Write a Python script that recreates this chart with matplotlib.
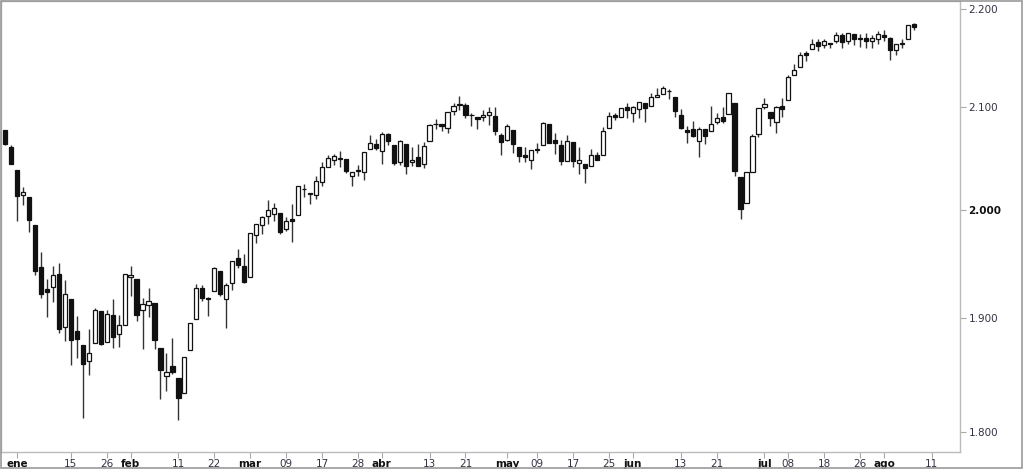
import matplotlib
matplotlib.use('Agg')
import matplotlib.pyplot as plt
from matplotlib.patches import Rectangle
from matplotlib.ticker import FixedLocator, NullLocator
import numpy as np
import pandas as pd

plt.rcParams['font.family'] = ['DejaVu Sans']

# sesiones (dias habiles, sin festivos)
festivos = ['2016-01-01', '2016-01-18', '2016-02-15', '2016-03-25', '2016-05-30', '2016-07-04']
fechas = pd.bdate_range('2015-12-30', '2016-08-08', freq='C', holidays=festivos)

# velas: apertura, maximo, minimo, cierre
apertura = [
    2077.34, 2060.59,
    2038.20, 2013.78, 2011.71, 1985.32, 1945.97, 1926.12, 1927.83, 1940.34, 1891.68, 1916.68,
    1888.66, 1876.18, 1861.46, 1877.40, 1906.28, 1878.79, 1902.52, 1885.22, 1894.00,
    1936.94, 1935.26, 1907.07, 1911.67, 1913.07, 1873.25, 1848.46, 1857.10, 1847.00, 1833.40,
    1871.44, 1898.80, 1927.57, 1916.74, 1924.44, 1942.38, 1917.56, 1931.87, 1954.95, 1947.13,
    1937.09, 1976.60, 1985.60, 1994.01, 1996.11, 1996.88, 1981.44, 1990.97, 1994.71, 2019.27,
    2015.27, 2014.24, 2026.90, 2041.16, 2047.88, 2048.64, 2048.55, 2032.48, 2037.89, 2035.75,
    2058.27, 2063.77,
    2056.62, 2073.19, 2062.50, 2045.56, 2063.01, 2045.54, 2050.23, 2043.72, 2065.92, 2082.89,
    2083.10, 2078.83, 2096.05, 2101.52, 2102.09, 2091.49, 2089.37, 2089.84, 2092.33, 2090.93,
    2071.82,
    2067.17, 2077.18, 2060.30, 2052.95, 2047.77, 2057.55, 2062.63, 2083.29, 2067.17, 2062.50,
    2046.53, 2065.04, 2044.38, 2044.21, 2041.88, 2052.23, 2052.65, 2078.93, 2091.44, 2090.06,
    2100.13,
    2093.94, 2097.71, 2104.07, 2100.83, 2110.18, 2112.71, 2115.65, 2109.57, 2091.75, 2076.65,
    2077.60, 2066.36, 2078.20, 2075.58, 2085.19, 2089.75, 2092.80, 2103.81, 2031.45, 2006.67,
    2036.09, 2073.17,
    2099.34, 2095.05, 2084.43, 2100.42, 2106.97, 2131.72, 2139.50, 2153.81, 2157.88, 2165.13,
    2162.04, 2163.79, 2166.10, 2172.91, 2166.47, 2173.71, 2168.97, 2169.81, 2166.05, 2168.83,
    2173.15, 2169.94, 2156.81, 2163.51, 2168.79, 2183.76,
]
maximo = [
    2077.34, 2062.54,
    2038.20, 2021.94, 2011.71, 1985.32, 1960.40, 1935.65, 1947.38, 1950.33, 1934.47, 1916.68,
    1901.44, 1876.18, 1889.85, 1908.85, 1906.28, 1906.73, 1916.99, 1902.96, 1940.24,
    1947.20, 1935.26, 1918.01, 1927.35, 1913.07, 1873.25, 1868.25, 1881.60, 1847.00, 1864.78,
    1895.77, 1930.68, 1930.00, 1918.78, 1946.70, 1942.38, 1932.08, 1951.83, 1962.96, 1958.27,
    1978.35, 1986.51, 1993.69, 2009.13, 2006.12, 1996.88, 1992.69, 2005.08, 2022.37, 2024.57,
    2015.94, 2032.02, 2046.24, 2052.36, 2053.91, 2056.60, 2048.55, 2036.04, 2042.67, 2055.91,
    2072.21, 2067.92,
    2075.07, 2074.02, 2062.50, 2067.33, 2063.01, 2060.63, 2062.93, 2065.05, 2083.18, 2087.84,
    2083.22, 2094.66, 2104.05, 2111.05, 2103.78, 2094.32, 2089.37, 2096.87, 2099.89, 2099.30,
    2073.85,
    2083.42, 2077.18, 2060.30, 2060.23, 2057.72, 2064.15, 2084.87, 2083.29, 2073.99, 2066.79,
    2071.88, 2065.69, 2060.61, 2044.21, 2058.35, 2055.58, 2079.67, 2094.73, 2094.30, 2099.06,
    2103.48,
    2100.97, 2105.26, 2104.07, 2113.36, 2119.22, 2120.55, 2117.64, 2109.57, 2098.12, 2081.30,
    2085.65, 2079.62, 2078.20, 2100.66, 2093.66, 2099.71, 2113.32, 2103.81, 2031.45, 2036.09,
    2073.13, 2098.94,
    2108.71, 2095.05, 2100.72, 2109.08, 2131.71, 2143.16, 2155.40, 2156.45, 2169.05, 2169.05,
    2168.99, 2164.63, 2175.63, 2174.56, 2175.11, 2173.71, 2173.54, 2174.98, 2172.85, 2177.09,
    2178.29, 2170.20, 2163.79, 2168.19, 2182.87, 2185.44,
]
minimo = [
    2061.97, 2043.62,
    1989.68, 2004.17, 1979.05, 1938.83, 1918.46, 1901.10, 1914.35, 1886.41, 1878.93, 1857.83,
    1864.60, 1812.29, 1848.98, 1877.40, 1875.97, 1878.79, 1872.70, 1873.65, 1894.00,
    1920.03, 1897.29, 1872.23, 1900.52, 1872.65, 1828.46, 1834.94, 1850.32, 1810.10, 1833.40,
    1871.44, 1898.80, 1915.09, 1902.17, 1924.44, 1919.44, 1891.00, 1925.41, 1945.78, 1931.81,
    1937.09, 1968.80, 1977.37, 1986.77, 1989.38, 1977.43, 1979.84, 1969.25, 1994.71, 2012.05,
    2005.23, 2010.04, 2022.16, 2041.16, 2043.14, 2040.57, 2034.86, 2022.49, 2031.96, 2028.31,
    2058.27, 2057.46,
    2043.98, 2062.57, 2042.56, 2043.09, 2033.80, 2041.69, 2041.88, 2039.74, 2065.92, 2078.13,
    2076.31, 2073.65, 2091.68, 2096.32, 2088.52, 2081.20, 2077.52, 2085.80, 2082.31, 2071.62,
    2052.28,
    2066.11, 2054.89, 2045.55, 2045.77, 2039.45, 2054.31, 2062.63, 2064.46, 2053.13, 2043.13,
    2046.53, 2040.82, 2034.49, 2025.91, 2041.88, 2047.26, 2052.65, 2078.93, 2087.08, 2090.06,
    2088.66,
    2085.10, 2088.59, 2085.36, 2100.83, 2110.18, 2112.71, 2107.73, 2089.96, 2078.46, 2064.10,
    2069.80, 2050.37, 2062.84, 2075.58, 2083.02, 2084.36, 2092.80, 2032.57, 1991.68, 2006.67,
    2036.09, 2070.00,
    2097.90, 2080.86, 2074.02, 2089.39, 2106.97, 2131.72, 2139.50, 2146.21, 2157.88, 2155.79,
    2159.07, 2159.01, 2164.89, 2159.75, 2163.24, 2161.95, 2160.18, 2159.07, 2159.74, 2163.49,
    2166.21, 2147.58, 2152.56, 2159.07, 2168.79, 2177.85,
]
cierre = [
    2063.36, 2043.94,
    2012.66, 2016.71, 1990.26, 1943.09, 1922.03, 1923.67, 1938.68, 1890.28, 1921.84, 1880.33,
    1881.33, 1859.33, 1868.99, 1906.90, 1877.08, 1903.63, 1882.95, 1893.36, 1940.24,
    1939.38, 1903.03, 1912.53, 1915.45, 1880.05, 1853.44, 1852.21, 1851.86, 1829.08, 1864.78,
    1895.58, 1926.82, 1917.83, 1917.78, 1945.50, 1921.27, 1929.80, 1951.70, 1948.05, 1932.23,
    1978.35, 1986.45, 1993.40, 1999.99, 2001.76, 1979.26, 1989.26, 1989.57, 2022.19, 2019.64,
    2015.93, 2027.22, 2040.59, 2049.58, 2051.60, 2049.80, 2036.71, 2035.94, 2037.05, 2055.01,
    2063.95, 2059.74,
    2072.78, 2066.13, 2045.17, 2066.66, 2041.91, 2047.60, 2041.99, 2061.72, 2082.42, 2082.78,
    2080.73, 2094.34, 2100.80, 2102.40, 2091.48, 2091.58, 2087.79, 2091.70, 2095.15, 2075.81,
    2065.30,
    2081.43, 2063.37, 2051.12, 2050.63, 2057.14, 2058.69, 2084.39, 2064.46, 2064.11, 2046.61,
    2066.66, 2047.21, 2047.63, 2040.04, 2052.32, 2048.04, 2076.06, 2090.54, 2090.10, 2099.06,
    2096.95,
    2099.33, 2105.26, 2099.13, 2109.41, 2112.13, 2119.12, 2115.48, 2096.07, 2079.06, 2075.32,
    2071.50, 2077.99, 2071.22, 2083.25, 2088.90, 2085.45, 2113.32, 2037.41, 2000.54, 2036.09,
    2070.77, 2098.86,
    2102.95, 2088.55, 2099.73, 2097.90, 2129.90, 2137.16, 2152.14, 2152.43, 2163.75, 2161.74,
    2166.89, 2163.78, 2173.02, 2165.17, 2175.03, 2168.48, 2169.18, 2166.58, 2170.06, 2173.60,
    2170.84, 2157.03, 2163.79, 2164.25, 2182.87, 2180.89,
]

# etiquetas del eje x (fecha de la sesion -> texto)
marcas_x = ['2016-01-04', '2016-01-15', '2016-01-26', '2016-02-01', '2016-02-11', '2016-02-22',
            '2016-03-01', '2016-03-09', '2016-03-17', '2016-03-28', '2016-04-01', '2016-04-13',
            '2016-04-21', '2016-05-02', '2016-05-09', '2016-05-17', '2016-05-25', '2016-06-01',
            '2016-06-13', '2016-06-21', '2016-07-01', '2016-07-08', '2016-07-18', '2016-07-26',
            '2016-08-01', '2016-08-11']
textos_x = ['ene', '15', '26', 'feb', '11', '22', 'mar', '09', '17', '28', 'abr', '13', '21',
            'may', '09', '17', '25', 'jun', '13', '21', 'jul', '08', '18', '26', 'ago', '11']
meses = ['ene', 'feb', 'mar', 'abr', 'may', 'jun', 'jul', 'ago']
marcas_y = [1800, 1900, 2000, 2100, 2200]

o = np.array(apertura)
h = np.array(maximo)
l = np.array(minimo)
c = np.array(cierre)
x = np.arange(len(o))

# posiciones de las marcas: las sesiones futuras siguen contando dias habiles
todas = pd.bdate_range('2015-12-30', '2016-08-31', freq='C', holidays=festivos)
pos_x = [todas.get_loc(pd.Timestamp(d)) for d in marcas_x]

fig = plt.figure(figsize=(10.24, 4.70), dpi=100)
ax = fig.add_axes([1 / 1024, 18 / 470, 959 / 1024, 451 / 470])

sube = c >= o
# mechas
ax.vlines(x, l, h, color='#333333', linewidth=1, zorder=1)
# cuerpos
alto = np.where(np.abs(c - o) < 0.4, 0.4, c - o)
ax.bar(x, alto, bottom=o, width=0.7,
       color=np.where(sube, 'white', '#111111'),
       edgecolor='#111111', linewidth=0.9, zorder=2)

ax.set_yscale('log')
ax.set_ylim(1783, 2208)
ax.set_xlim(-0.67, 159.7)

ax.yaxis.tick_right()
ax.yaxis.set_major_locator(FixedLocator(marcas_y))
ax.yaxis.set_minor_locator(NullLocator())
ax.set_yticklabels([f'{v:,}'.replace(',', '.') for v in marcas_y])
ax.tick_params(axis='y', which='major', length=4, color='#aaaaaa',
               labelsize=7.5, labelcolor='#333344', pad=2)
for t in ax.get_yticklabels():
    if t.get_text() == '2.000':
        t.set_fontweight('bold')
        t.set_color('#111111')

ax.set_xticks(pos_x)
ax.set_xticklabels(textos_x)
ax.tick_params(axis='x', length=4, color='#aaaaaa', labelsize=7.5,
               labelcolor='#333344', pad=1)
for t in ax.get_xticklabels():
    if t.get_text() in meses:
        t.set_fontweight('bold')
        t.set_color('#111111')

for s in ax.spines.values():
    s.set_color('#bbbbbb')
    s.set_linewidth(1)

# marco exterior de la imagen
fig.patches.append(Rectangle((0.5 / 1024, 2.5 / 470), 1021.5 / 1024, 467 / 470,
                             transform=fig.transFigure, fill=False,
                             edgecolor='#999999', linewidth=1.2))

fig.savefig('out.png', dpi=100, facecolor='white')
